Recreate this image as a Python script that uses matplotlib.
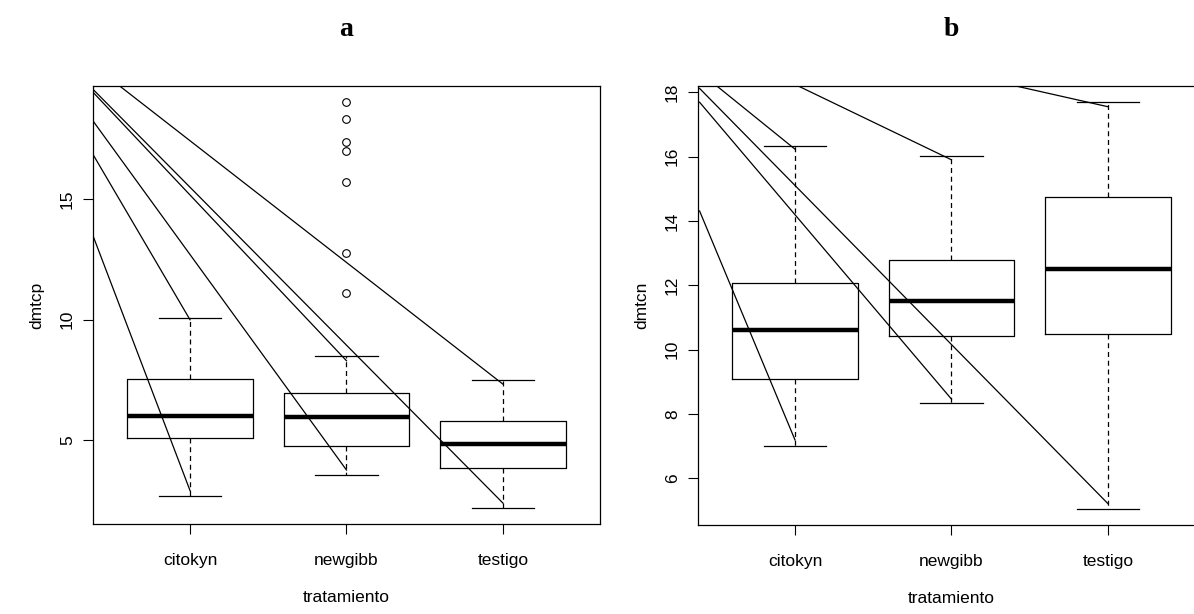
import matplotlib
matplotlib.use('Agg')
import matplotlib.pyplot as plt

# treatments
groups = ['citokyn', 'newgibb', 'testigo']

# panel a: dmtcp box stats
a_whislo = [2.71, 3.56, 2.18]
a_q1 = [5.10, 4.75, 3.86]
a_med = [6.00, 5.96, 4.85]
a_q3 = [7.53, 6.96, 5.82]
a_whishi = [10.07, 8.51, 7.49]
a_fliers = [[], [19.01, 18.32, 17.38, 16.99, 15.72, 12.77, 11.09], []]

# panel b: dmtcn box stats
b_whislo = [7.01, 8.33, 5.04]
b_q1 = [9.08, 10.42, 10.49]
b_med = [10.61, 11.51, 12.51]
b_q3 = [12.08, 12.77, 14.75]
b_whishi = [16.34, 16.02, 17.69]
b_fliers = [[], [], []]

# stray straight lines drawn over each panel: (x0, y0) -> (x1, y1) in data units
a_lines_x0 = [0.38, 0.38, 0.38, 0.38, 0.38, 0.55]
a_lines_y0 = [13.48, 16.85, 18.24, 19.43, 19.55, 19.69]
a_lines_x1 = [1, 1, 2, 2, 3, 3]
a_lines_y1 = [2.92, 10.0, 3.77, 8.30, 2.40, 7.33]

b_lines_x0 = [0.39, 0.39, 0.39, 0.50, 1.02, 2.41]
b_lines_y0 = [14.31, 17.69, 18.12, 18.196, 18.196, 18.196]
b_lines_x1 = [1, 2, 3, 1, 2, 3]
b_lines_y1 = [7.19, 8.46, 5.21, 16.23, 15.90, 17.55]

a_yticks = [5, 10, 15]
b_yticks = [6, 8, 10, 12, 14, 16, 18]

plt.rcParams['font.family'] = ['Liberation Sans', 'DejaVu Sans']


def make_stats(whislo, q1, med, q3, whishi, fliers):
	stats = []
	for i in range(len(groups)):
		stats.append(dict(label=groups[i], whislo=whislo[i], q1=q1[i], med=med[i],
						  q3=q3[i], whishi=whishi[i], fliers=fliers[i]))
	return stats


def draw_panel(ax, stats, lx0, ly0, lx1, ly1, ylim, yticks, ylabel, letter):
	ax.bxp(stats, positions=[1, 2, 3], widths=0.8, capwidths=0.4,
		   boxprops=dict(color='black', linewidth=0.9),
		   whiskerprops=dict(color='black', linewidth=0.9, linestyle=(0, (4, 3))),
		   capprops=dict(color='black', linewidth=0.9),
		   medianprops=dict(color='black', linewidth=3.2, solid_capstyle='butt'),
		   flierprops=dict(marker='o', markerfacecolor='none', markeredgecolor='black',
						   markersize=5.5, markeredgewidth=0.8))
	for i in range(len(lx0)):
		ax.plot([lx0[i], lx1[i]], [ly0[i], ly1[i]], color='black', linewidth=0.9)
	ax.set_xlim(0.38, 3.62)
	ax.set_ylim(*ylim)
	ax.set_xticks([1, 2, 3])
	ax.set_xticklabels(groups)
	ax.set_yticks(yticks)
	ax.set_yticklabels([str(t) for t in yticks], rotation=90, va='center')
	ax.tick_params(direction='out', length=7, width=0.8, labelsize=12.5, pad=6)
	ax.tick_params(axis='x', pad=14)
	for s in ax.spines.values():
		s.set_linewidth(0.9)
	ax.set_xlabel('tratamiento', fontsize=12.5, labelpad=16)
	ax.set_ylabel(ylabel, fontsize=12.5, labelpad=11)
	ax.text(0.5, 1.128, letter, transform=ax.transAxes, ha='center', va='center',
			fontsize=20, fontweight='bold', family='Liberation Serif')


fig = plt.figure(figsize=(11.94, 6.14), dpi=100)
ax1 = fig.add_axes([0.0779, 0.1466, 0.4246, 0.7134])
ax2 = fig.add_axes([0.5846, 0.1450, 0.4246, 0.7150])

draw_panel(ax1, make_stats(a_whislo, a_q1, a_med, a_q3, a_whishi, a_fliers),
		   a_lines_x0, a_lines_y0, a_lines_x1, a_lines_y1,
		   (1.535, 19.69), a_yticks, 'dmtcp', 'a')
draw_panel(ax2, make_stats(b_whislo, b_q1, b_med, b_q3, b_whishi, b_fliers),
		   b_lines_x0, b_lines_y0, b_lines_x1, b_lines_y1,
		   (4.548, 18.196), b_yticks, 'dmtcn', 'b')

fig.savefig('out.png', dpi=100)
